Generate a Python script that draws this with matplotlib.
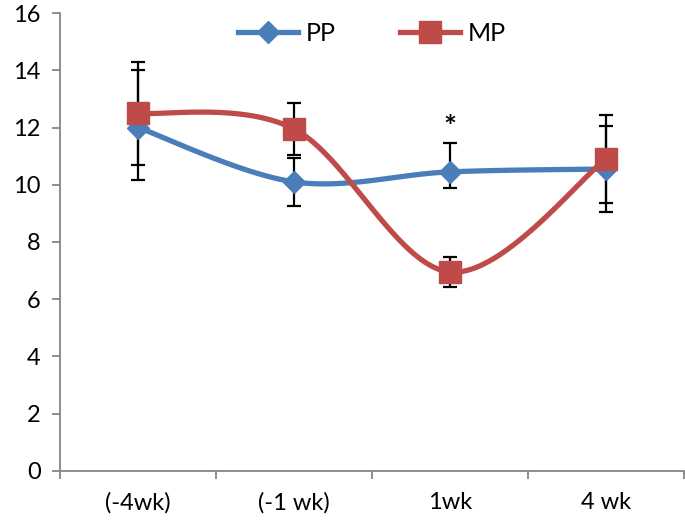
import numpy as np
import matplotlib
matplotlib.use("Agg")
import matplotlib.pyplot as plt

plt.rcParams['font.family'] = ['Lato', 'DejaVu Sans']

categories = ['(-4wk)', '(-1 wk)', '1wk', '4 wk']
pp = [12.0, 10.1, 10.45, 10.55]
pp_err_lo = [1.85, 0.85, 0.55, 1.5]
pp_err_hi = [2.0, 0.85, 1.0, 1.5]
mp = [12.5, 11.95, 6.95, 10.9]
mp_err = [1.8, 0.9, 0.53, 1.55]
star_y = 12.0

blue = '#4a7ebb'
red = '#be4b48'
spine = '#868686'


def smooth(xs, ys, n=40):
    # Excel-style smoothed line: Bezier with Catmull-Rom control points
    p = np.column_stack([xs, ys]).astype(float)
    out = []
    for i in range(len(p) - 1):
        p0 = p[i - 1] if i > 0 else p[i]
        p3 = p[i + 2] if i + 2 < len(p) else p[i + 1]
        c1 = p[i] + (p[i + 1] - p0) / 6
        c2 = p[i + 1] - (p3 - p[i]) / 6
        t = np.linspace(0, 1, n)[:, None]
        seg = ((1 - t) ** 3 * p[i] + 3 * (1 - t) ** 2 * t * c1
               + 3 * (1 - t) * t ** 2 * c2 + t ** 3 * p[i + 1])
        out.append(seg if i == 0 else seg[1:])
    out = np.vstack(out)
    return out[:, 0], out[:, 1]


fig = plt.figure(figsize=(6.85, 5.27), dpi=100)
ax = fig.add_axes([0.0876, 0.1063, 0.911, 0.869])

x = np.arange(len(categories)) + 0.5

ax.errorbar(x, pp, yerr=[pp_err_lo, pp_err_hi], fmt='none', ecolor='black',
            elinewidth=1.6, capsize=5, capthick=1.6, zorder=2)
ax.errorbar(x, mp, yerr=mp_err, fmt='none', ecolor='black',
            elinewidth=1.6, capsize=5, capthick=1.6, zorder=2)

sx, sy = smooth(x, pp)
ax.plot(sx, sy, color=blue, lw=3.8, solid_capstyle='round', zorder=3)
ax.plot(x, pp, 'D', color=blue, ms=11, zorder=3.1)
sx, sy = smooth(x, mp)
ax.plot(sx, sy, color=red, lw=3.8, solid_capstyle='round', zorder=4)
ax.plot(x, mp, 's', color=red, ms=16, zorder=4.1)

# legend proxies
ax.plot([], [], color=blue, lw=3.8, marker='D', ms=11, label='PP')
ax.plot([], [], color=red, lw=3.8, marker='s', ms=16, label='MP')
ax.legend(loc='upper center', bbox_to_anchor=(0.5, 1.03), ncol=2, frameon=False,
          fontsize=18, handlelength=2.4, columnspacing=2.6, handletextpad=0.3)

ax.text(x[2], star_y, '*', ha='center', va='center', fontsize=22, fontweight='bold')

ax.set_xlim(0, len(categories))
ax.set_ylim(0, 16)
ax.set_yticks(range(0, 17, 2))
ax.set_xticks(range(len(categories) + 1))
ax.set_xticklabels([])
ax.set_xticks(x, minor=True)
ax.set_xticklabels(categories, minor=True)
ax.tick_params(axis='x', which='minor', length=0, pad=15, labelsize=17)
ax.tick_params(axis='x', which='major', direction='out', length=6, color=spine, width=1.3)
ax.tick_params(axis='y', direction='out', length=6, color=spine, width=1.3, labelsize=17, pad=8)

for s in ['top', 'right']:
    ax.spines[s].set_visible(False)
for s in ['left', 'bottom']:
    ax.spines[s].set_color(spine)
    ax.spines[s].set_linewidth(1.3)

fig.savefig('out.png', dpi=100)
